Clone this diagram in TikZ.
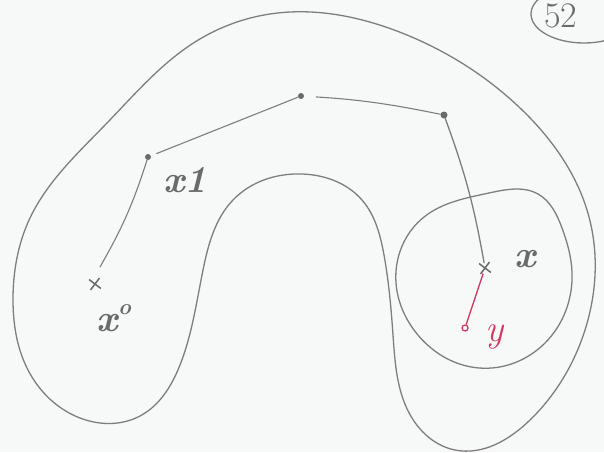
\documentclass[tikz,border=0pt]{standalone}
\usetikzlibrary{shapes.misc,hobby}
\definecolor{pencil}{HTML}{7E7E7E}
\definecolor{darkpencil}{HTML}{6A6A6A}
\definecolor{redpen}{HTML}{D23A62}
\definecolor{paper}{HTML}{F7F8F8}
\begin{document}
\begin{tikzpicture}[x=1pt,y=-1pt,
  outline/.style={draw=pencil,line width=1.3pt,line join=round},
  pathline/.style={draw=pencil,line width=1.1pt,line cap=round},
  dotmark/.style={circle,fill=darkpencil,inner sep=0pt,minimum size=6pt},
  crossmark/.style={cross out,draw=darkpencil,line width=1.5pt,minimum size=9pt,inner sep=0pt,rotate=8},
  lbl/.style={text=darkpencil,font=\fontsize{38}{38}\selectfont\bfseries\itshape,inner sep=0pt},
  redlbl/.style={text=redpen,font=\fontsize{38}{38}\selectfont\itshape,inner sep=0pt}]
\useasboundingbox (0,0) rectangle (604,452);
\fill[paper] (0,0) rectangle (604,452);
\clip (0,0) rectangle (604,452);

% outer horseshoe region
\draw[outline,use Hobby shortcut,closed=true]
  (270,14) .. (402,33) .. (519,107) .. (589,217) .. (585,330) .. (530,420)
  .. (455,450) .. (412,418) .. (393,335) .. (384,255) .. (362,200)
  .. (302,174) .. (233,200) .. (203,270) .. (180,365) .. (140,416)
  .. (80,418) .. (28,370) .. (13,300) .. (30,218) .. (107,123) .. (195,42);

% small ball round x
\draw[outline,use Hobby shortcut,closed=true]
  (396,283) .. (424,217) .. (489,193) .. (538,194) .. (562,228)
  .. (572,272) .. (545,343) .. (479,368) .. (414,330);

% "52" in a circle, top right
\draw[outline] (584,14) ellipse [x radius=53, y radius=29];
\node[lbl,font=\fontsize{36}{36}\selectfont,anchor=west] (num) at (544,16) {52};

% points
\node[crossmark] (x0) at (95,284) {};
\node[dotmark] (x1) at (148,157) {};
\node[dotmark] (p2) at (301,96) {};
\node[dotmark,minimum size=7pt] (p3) at (444,115) {};
\node[crossmark] (xx) at (485,268) {};
\node[circle,draw=redpen,line width=1.3pt,fill=paper,inner sep=0pt,minimum size=6pt] (yy) at (465,328) {};

% broken line x0 -> x1 -> ... -> x
\coordinate (x0t) at (100,267);
\draw[pathline] (x0t) to[bend right=6] (x1);
\draw[pathline,shorten <=6pt] (x1) -- (p2);
\draw[pathline,shorten <=12pt] (p2) to[bend left=4] (p3);
\draw[pathline,line width=1.3pt] (p3) to[bend left=5] (xx);
\draw[draw=redpen,line width=1.3pt] (xx) -- (yy);

% labels
\node[lbl] (lx1) at (185,180) {x1};
\node[lbl] (lx0) at (114,318) {x\raisebox{0.45em}{\fontsize{22}{22}\selectfont o}};
\node[lbl] (lx) at (525,259) {x};
\node[redlbl] (ly) at (495,337) {y};
\end{tikzpicture}
\end{document}
